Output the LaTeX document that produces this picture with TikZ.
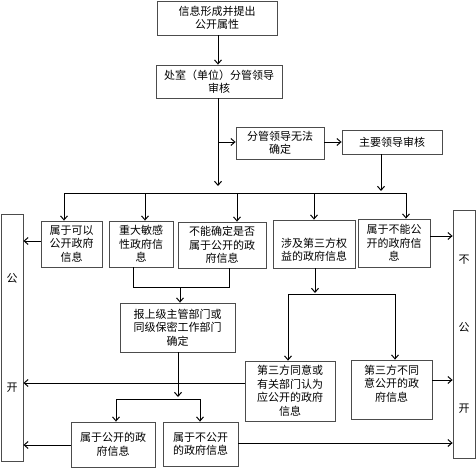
\documentclass[tikz,border=0pt]{standalone}
\usepackage{fontspec}
\setmainfont{Noto Sans CJK SC}
\usetikzlibrary{arrows.meta}
\begin{document}
\begin{tikzpicture}[x=1pt,y=-1pt,
  box/.style={draw=black!70,line width=0.8pt,inner sep=1pt,align=center,
    font=\fontsize{11}{13.5}\selectfont},
  lbl/.style={inner sep=0pt,align=center,font=\fontsize{11}{13.5}\selectfont},
  conn/.style={line width=1pt,black},
  arr/.style={conn,-{Straight Barb[length=4pt,width=7pt,line width=1pt]}}]
\useasboundingbox (0,0) rectangle (476,468);
% boxes
\node[box,minimum width=120pt,minimum height=34pt] (b1) at (217,18) {信息形成并提出\\公开属性};
\node[box,minimum width=126pt,minimum height=33pt] (b2) at (219,81.5) {处室（单位）分管领导\\审核};
\node[box,minimum width=88pt,minimum height=32pt] (b3) at (280,143) {分管领导无法\\确定};
\node[box,minimum width=100pt,minimum height=24pt] (b4) at (392,142) {主要领导审核};
\node[box,minimum width=61pt,minimum height=46pt] (A) at (71.5,244) {属于可以\\公开政府\\信息};
\node[box,minimum width=64pt,minimum height=46pt] (B) at (141,244) {重大敏感\\性政府信\\息};
\node[box,minimum width=88pt,minimum height=46pt] (C) at (222,245) {不能确定是否\\属于公开的政\\府信息};
\node[box,minimum width=82pt,minimum height=48pt,
  label={[lbl,yshift=-6pt]center:涉及第三方权\\益的政府信息}] (D) at (314,244) {};
\node[box,minimum width=72pt,minimum height=48pt] (E) at (394,243) {属于不能公\\开的政府信\\息};
\node[box,minimum width=22pt,minimum height=247pt] (L) at (12,337.5) {};
\node[box,minimum width=22pt,minimum height=248pt] (R) at (464,334) {};
\node[lbl] (L1) at (12,278) {公};
\node[lbl] (L2) at (12,388) {开};
\node[lbl] (R1) at (464,260) {不};
\node[lbl] (R2) at (464,327) {公};
\node[lbl] (R3) at (464,409) {开};
\node[box,minimum width=115pt,minimum height=49pt] (F) at (177.5,327.5) {报上级主管部门或\\同级保密工作部门\\确定};
\node[box,minimum width=90pt,minimum height=60pt] (G) at (290,391) {第三方同意或\\有关部门认为\\应公开的政府\\信息};
\node[box,minimum width=81pt,minimum height=59pt,
  label={[lbl,yshift=6pt]center:第三方不同\\意公开的政\\府信息}] (H) at (391.5,389.5) {};
\node[box,minimum width=84pt,minimum height=45pt] (I) at (113,444.5) {属于公开的政\\府信息};
\node[box,minimum width=75pt,minimum height=44pt] (J) at (200.5,444) {属于不公开\\的政府信息};
% coordinates
\coordinate (t2) at (218,186);
\coordinate (s3) at (219,142);
\coordinate (t4) at (381,191);
\coordinate (busL) at (64,193);
\coordinate (busR) at (406,193);
\coordinate (bcL) at (133,287);
\coordinate (bcR) at (229,287);
\coordinate (bcM) at (180,287);
\coordinate (dT) at (315,293);
\coordinate (ghL) at (288,294);
\coordinate (ghR) at (395,294);
\coordinate (fT) at (178,397);
\coordinate (ijL) at (116,399);
\coordinate (ijR) at (200,399);
% connectors
\draw[arr] (b1.south -| 218,0) -- (b2.north -| 218,0);
\draw[arr] (b2.south -| t2) -- (t2);
\draw[arr] (s3) -- (b3.west |- s3);
\draw[arr] (b3.east |- s3) -- (b4.west |- s3);
\draw[arr] (b4.south -| t4) -- (t4);
\draw[conn] (busL) -- (busR);
\draw[arr] (busL) -- (busL |- A.north);
\draw[arr] (busL -| 145,0) -- (B.north -| 145,0);
\draw[arr] (busL -| 237,0) -- (C.north -| 237,0);
\draw[arr] (busL -| 314,0) -- (D.north -| 314,0);
\draw[arr] (busR) -- (busR |- E.north);
\draw[arr] (A.west |- 0,241) -- (L.east |- 0,241);
\draw[arr] (E.east |- 0,236) -- (R.west |- 0,236);
\draw[conn] (B.south -| bcL) -- (bcL) -- (bcR) -- (C.south -| bcR);
\draw[arr] (bcM) -- (F.north -| bcM);
\draw[arr] (D.south -| dT) -- (dT);
\draw[conn] (ghL) -- (ghR);
\draw[arr] (ghL) -- (G.north -| ghL);
\draw[arr] (ghR) -- (H.north -| ghR);
\draw[arr] (G.west |- 0,383) -- (L.east |- 0,383);
\draw[arr] (H.east |- 0,380) -- (R.west |- 0,380);
\draw[arr] (F.south -| fT) -- (fT);
\draw[conn] (ijL) -- (ijR);
\draw[arr] (ijL) -- (I.north -| ijL);
\draw[arr] (ijR) -- (J.north -| ijR);
\draw[arr] (I.west |- 0,445) -- (L.east |- 0,445);
\draw[arr] (J.east |- 0,443) -- (R.west |- 0,443);
\end{tikzpicture}
\end{document}
